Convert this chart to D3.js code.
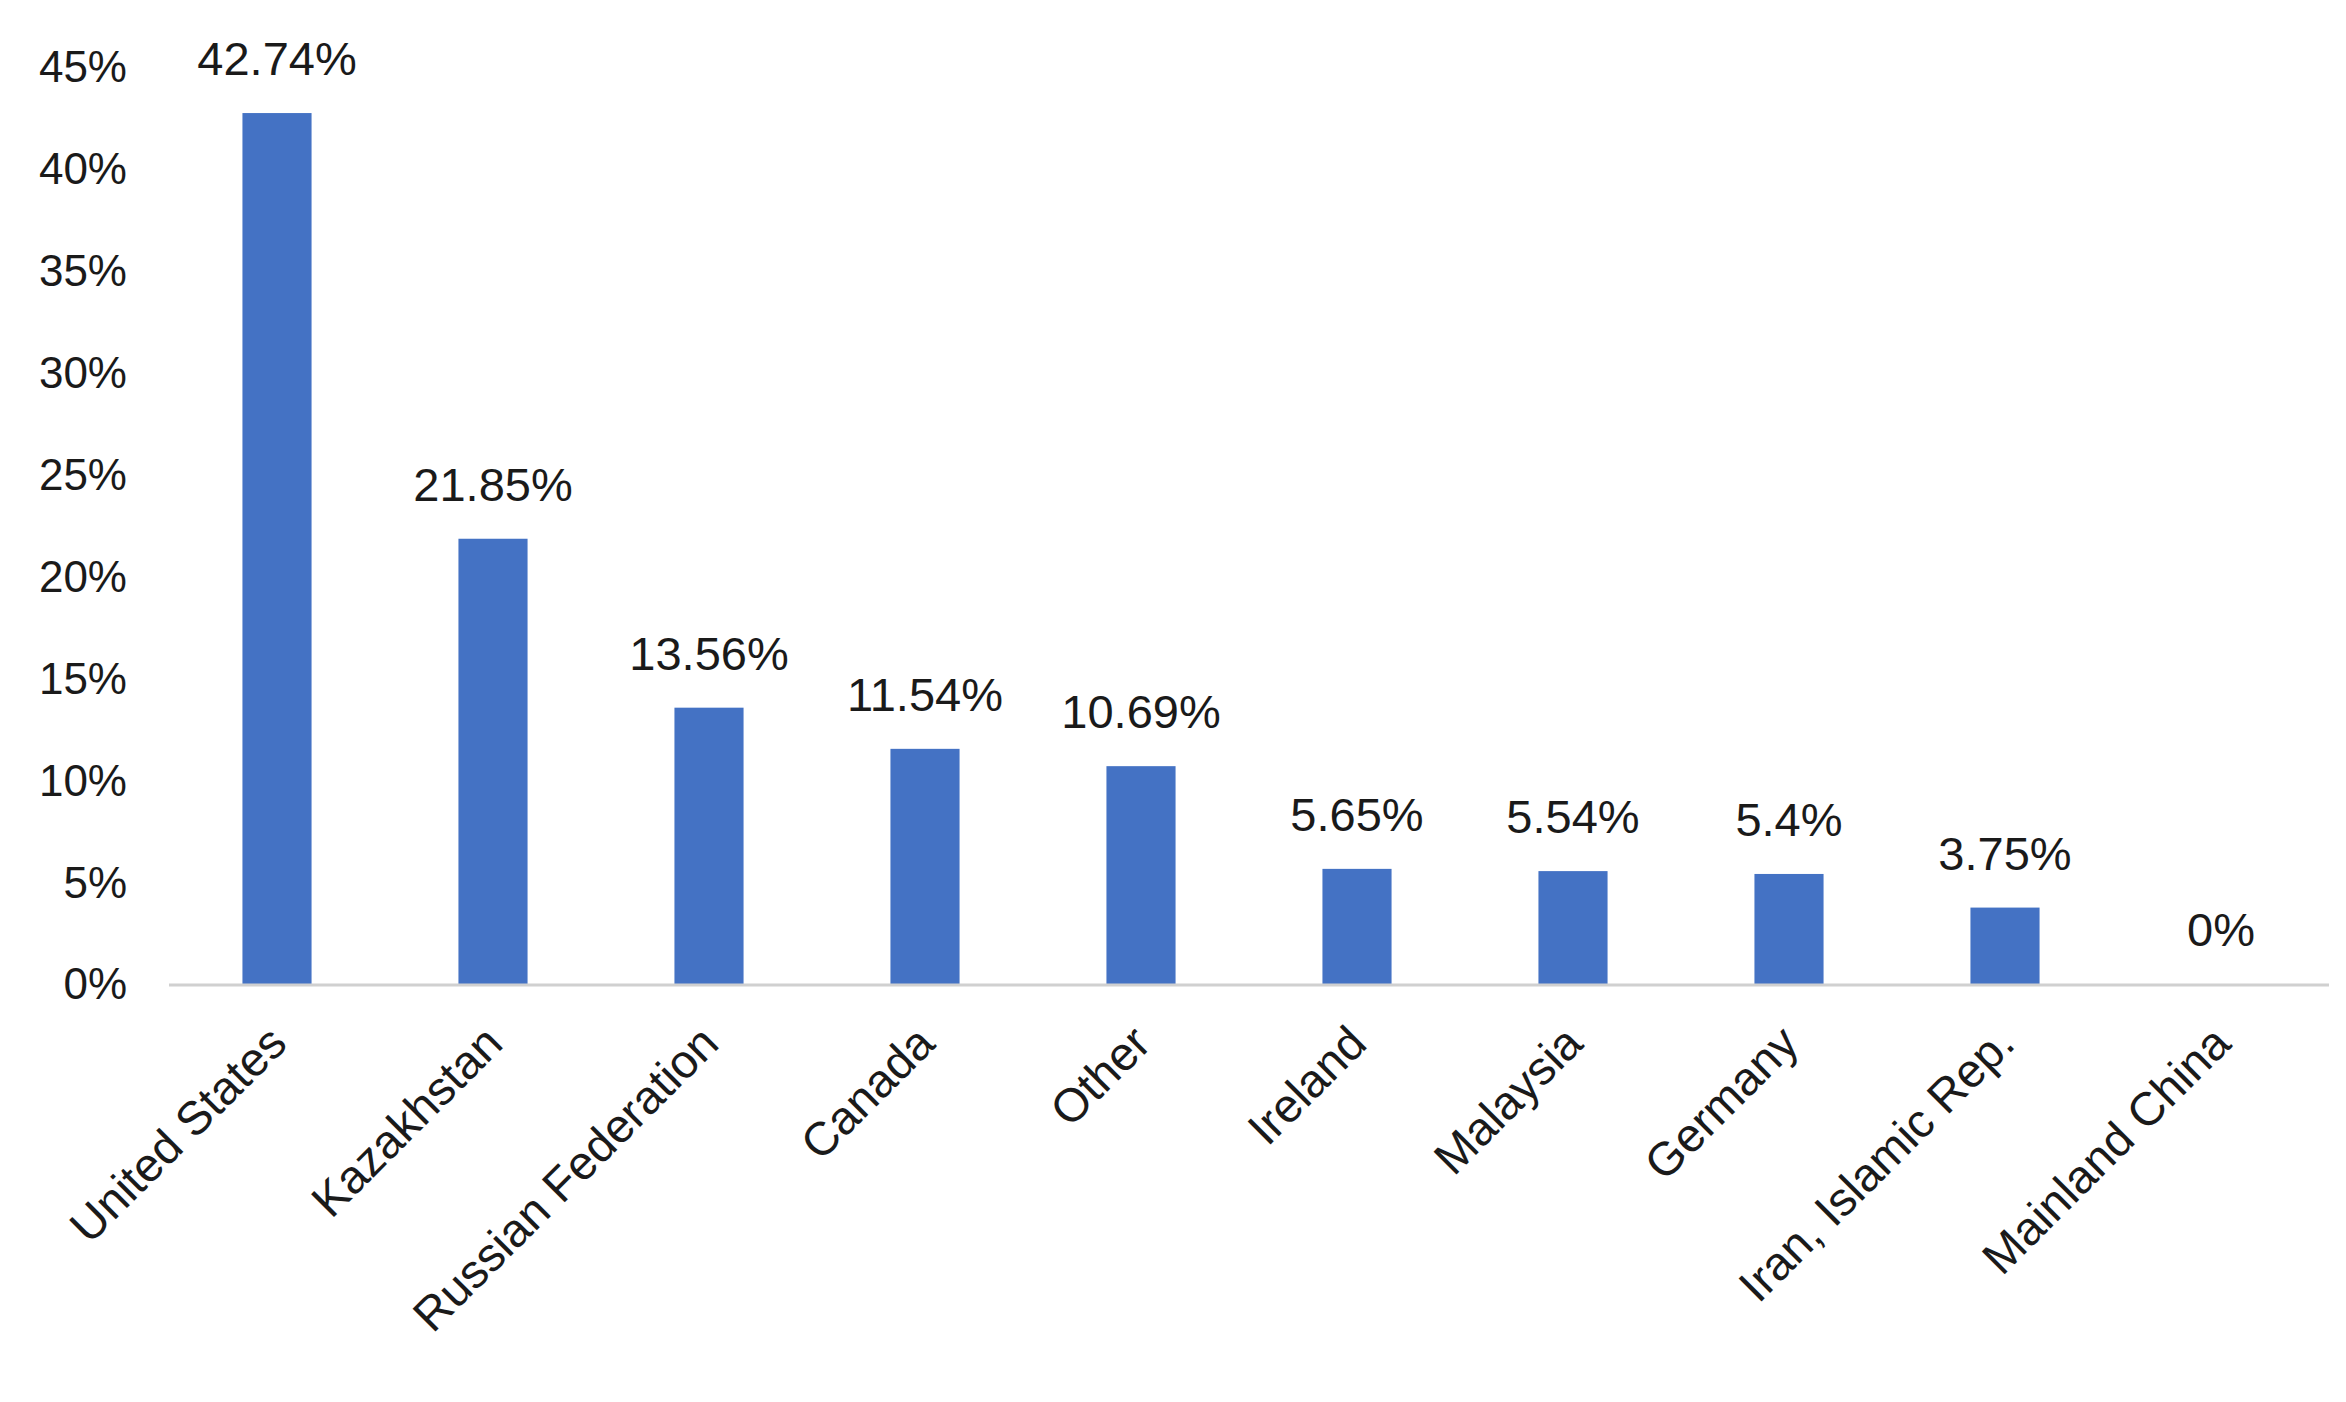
<!DOCTYPE html>
<html>
<head>
<meta charset="utf-8">
<script src="https://cdn.jsdelivr.net/npm/d3@7"></script>
<style>
  body { margin: 0; background: #fff; }
  text { font-family: "Liberation Sans", Arial, sans-serif; fill: #1a1a1a; }
</style>
</head>
<body>
<svg id="chart" width="2346" height="1402"></svg>
<script>
// data
const countries = ["United States", "Kazakhstan", "Russian Federation", "Canada", "Other",
  "Ireland", "Malaysia", "Germany", "Iran, Islamic Rep.", "Mainland China"];
const shares = [42.74, 21.85, 13.56, 11.54, 10.69, 5.65, 5.54, 5.4, 3.75, 0];
const shareLabels = ["42.74%", "21.85%", "13.56%", "11.54%", "10.69%", "5.65%", "5.54%", "5.4%", "3.75%", "0%"];
const yTicks = [0, 5, 10, 15, 20, 25, 30, 35, 40, 45];

const svg = d3.select("#chart");
const x0 = 169, x1 = 2329, yBase = 984, yTop = 67;

const x = d3.scaleBand().domain(countries).range([x0, x1]).paddingInner(0.68).paddingOuter(0.34);
const y = d3.scaleLinear().domain([0, 45]).range([yBase, yTop]);

// y tick labels (no axis line)
svg.append("g").selectAll("text").data(yTicks).join("text")
  .attr("x", 127).attr("y", d => y(d)).attr("dy", "0.35em")
  .attr("text-anchor", "end").attr("font-size", 44)
  .text(d => d + "%");

// bars
svg.append("g").selectAll("rect").data(countries).join("rect")
  .attr("x", d => x(d)).attr("width", x.bandwidth())
  .attr("y", (d, i) => y(shares[i]))
  .attr("height", (d, i) => yBase - y(shares[i]))
  .attr("fill", "#4472C4");

// baseline
svg.append("line").attr("x1", x0).attr("x2", x1).attr("y1", yBase + 1).attr("y2", yBase + 1)
  .attr("stroke", "#d0d0d0").attr("stroke-width", 3);

// value labels
svg.append("g").selectAll("text").data(countries).join("text")
  .attr("x", d => x(d) + x.bandwidth() / 2)
  .attr("y", (d, i) => y(shares[i]) - 38)
  .attr("text-anchor", "middle").attr("font-size", 47)
  .text((d, i) => shareLabels[i]);

// category labels
svg.append("g").selectAll("text").data(countries).join("text")
  .attr("text-anchor", "end").attr("font-size", 47)
  .attr("transform", d => `translate(${x(d) + x.bandwidth() / 2 + 12},${yBase + 62}) rotate(-45)`)
  .text(d => d);
</script>
</body>
</html>
